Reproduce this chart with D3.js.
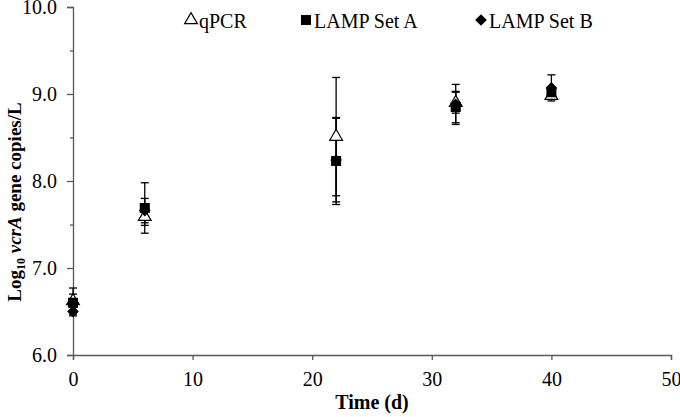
<!DOCTYPE html>
<html lang="en">
<head>
<meta charset="UTF-8">
<title>vcrA gene copies over time</title>
<script src="https://cdn.jsdelivr.net/npm/d3@7/dist/d3.min.js"></script>
<style>
  body { margin: 0; background: #fff; }
  svg text { font-family: "Times New Roman", "Liberation Serif", Times, serif; fill: #000; }
</style>
</head>
<body>
<svg id="mainsvg" width="680" height="417"></svg>
<script>
    // data
    const days = [0, 6, 22, 32, 40];
    const qpcr = [6.62, 7.59, 8.51, 8.90, 8.98];
    const qpcrErr = [0.15, 0.10, 0.68, 0.12, 0.03];
    const lampA = [6.60, 7.69, 8.23, 8.85, 9.02];
    const lampAErr = [0.10, 0.29, 0.50, 0.18, 0.06];
    const lampB = [6.50, 7.66, 8.24, 8.88, 9.07];
    const lampBErr = [0.05, 0.14, 0.48, 0.23, 0.15];
    const xTicks = [0, 10, 20, 30, 40, 50];
    const yTicks = [6, 7, 8, 9, 10];
    const yMinor = [6.5, 7.5, 8.5, 9.5];

    const svg = d3.select('#mainsvg');
    const axisColor = '#595959';

    const x = d3.scaleLinear().domain([0, 50]).range([73, 671]);
    const y = d3.scaleLinear().domain([6, 10]).range([355, 7]);

    const series = [
        {name: 'qPCR', vals: qpcr, err: qpcrErr, sym: d3.symbolTriangle, size: 70, rot: 0, fill: '#fff'},
        {name: 'LAMP Set A', vals: lampA, err: lampAErr, sym: d3.symbolSquare, size: 78, rot: 0, fill: '#000'},
        {name: 'LAMP Set B', vals: lampB, err: lampBErr, sym: d3.symbolSquare, size: 50, rot: 45, fill: '#000'}
    ];

    // axes
    const xAxis = svg.append('g')
        .attr('transform', `translate(0,${y(6)})`)
        .call(d3.axisBottom(x).tickValues(xTicks).tickSize(5).tickPadding(12));
    xAxis.selectAll('text').attr('font-size', 20);

    const yAxis = svg.append('g')
        .attr('transform', `translate(${x(0)},0)`)
        .call(d3.axisLeft(y).tickValues(yTicks).tickSize(6).tickPadding(10).tickFormat(d3.format('.1f')));
    yAxis.selectAll('text').attr('font-size', 20);

    svg.append('g')
        .attr('transform', `translate(${x(0)},0)`)
        .call(d3.axisLeft(y).tickValues(yMinor).tickSize(3).tickFormat(''))
        .select('.domain').remove();

    svg.selectAll('.domain, .tick line').attr('stroke', axisColor).attr('stroke-width', 1.3);

    // error bars + markers
    series.forEach(s => {
        const pts = days.map((d, i) => ({d, v: s.vals[i], e: s.err[i]}));
        const g = svg.append('g');
        g.selectAll('line.bar').data(pts).join('line')
            .attr('x1', p => x(p.d)).attr('x2', p => x(p.d))
            .attr('y1', p => y(p.v + p.e)).attr('y2', p => y(p.v - p.e))
            .attr('stroke', '#000').attr('stroke-width', 1.3);
        [1, -1].forEach(sign => {
            g.selectAll(null).data(pts).join('line')
                .attr('x1', p => x(p.d) - 4).attr('x2', p => x(p.d) + 4)
                .attr('y1', p => y(p.v + sign * p.e)).attr('y2', p => y(p.v + sign * p.e))
                .attr('stroke', '#000').attr('stroke-width', 1.3);
        });
    });
    series.forEach(s => {
        const sym = d3.symbol().type(s.sym).size(s.size);
        svg.append('g').selectAll('path').data(days.map((d, i) => [d, s.vals[i]])).join('path')
            .attr('d', sym)
            .attr('transform', p => `translate(${x(p[0])},${y(p[1])}) rotate(${s.rot})`)
            .attr('fill', s.fill).attr('stroke', '#000').attr('stroke-width', 1.2);
    });

    // legend
    const legendX = [191, 306, 481];
    const legend = svg.append('g');
    series.forEach((s, i) => {
        legend.append('path')
            .attr('d', d3.symbol().type(s.sym).size(s.size)())
            .attr('transform', `translate(${legendX[i]},20) rotate(${s.rot})`)
            .attr('fill', s.fill).attr('stroke', '#000').attr('stroke-width', 1.2);
        legend.append('text')
            .attr('x', legendX[i] + 8).attr('y', 28)
            .attr('font-size', 20)
            .text(s.name);
    });

    // axis titles
    svg.append('text')
        .attr('x', 372).attr('y', 409)
        .attr('text-anchor', 'middle')
        .attr('font-size', 20).attr('font-weight', 'bold')
        .text('Time (d)');

    const yTitle = svg.append('text')
        .attr('transform', 'translate(21,202) rotate(-90)')
        .attr('text-anchor', 'middle')
        .attr('font-size', 19).attr('font-weight', 'bold');
    yTitle.append('tspan').text('Log');
    yTitle.append('tspan').attr('font-size', 12).attr('dy', 4).text('10');
    yTitle.append('tspan').attr('dy', -4).text(' ');
    yTitle.append('tspan').attr('font-style', 'italic').text('vcrA');
    yTitle.append('tspan').text(' gene copies/L');
</script>
</body>
</html>
